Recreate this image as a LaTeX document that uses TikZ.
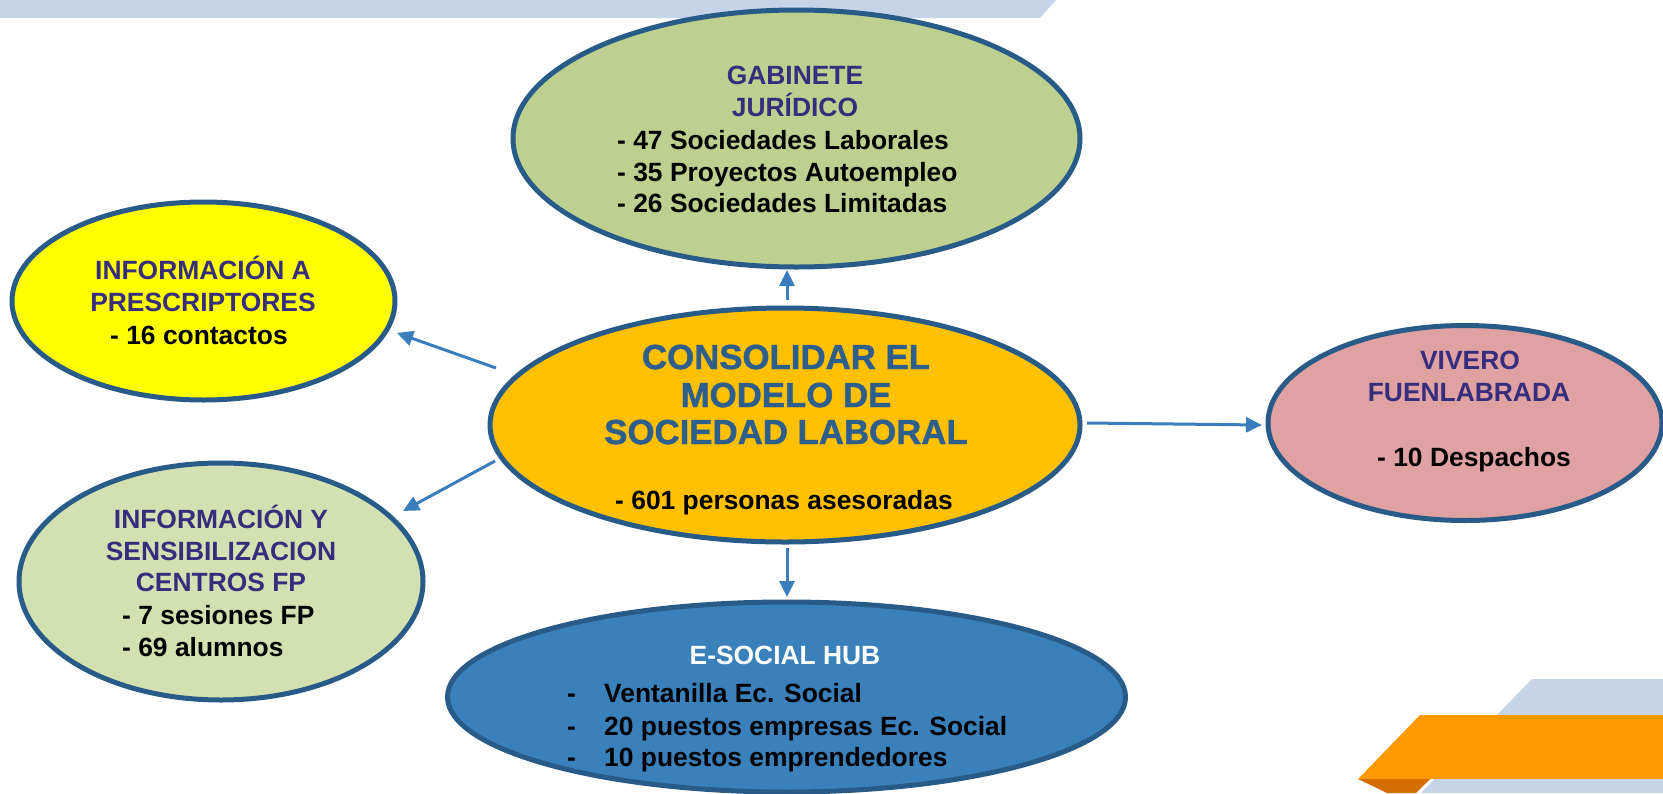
\documentclass[tikz,border=0pt]{standalone}
\usepackage{fontspec}
\setmainfont{Liberation Sans}
\newfontfamily\heavyfont{Liberation Sans Bold}[FakeBold=1.2]
\usetikzlibrary{shapes.geometric,arrows.meta,calc}
\definecolor{edgec}{RGB}{41,91,137}
\definecolor{arrowc}{RGB}{58,126,190}
\definecolor{hdr}{RGB}{55,45,125}
\definecolor{ttl}{RGB}{46,95,140}
\definecolor{gabf}{RGB}{189,208,143}
\definecolor{yelf}{RGB}{255,255,0}
\definecolor{cenf}{RGB}{255,192,0}
\definecolor{pinkf}{RGB}{223,161,161}
\definecolor{grnf}{RGB}{211,225,178}
\definecolor{bluf}{RGB}{58,128,186}
\definecolor{barc}{RGB}{198,212,231}
\definecolor{orgc}{RGB}{255,153,0}
\definecolor{dorg}{RGB}{212,110,0}
\begin{document}
\begin{tikzpicture}[x=1pt,y=-1pt,
  ell/.style={ellipse, draw=edgec, line width=5pt, inner sep=0pt, outer sep=0pt},
  txt/.style={inner sep=0pt, font=\bfseries\fontsize{26.4}{32}\selectfont},
  hd/.style={txt, text=hdr, anchor=base},
  bl/.style={txt, text=black, anchor=base west},
  ttlstyle/.style={inner sep=0pt, anchor=base, text=ttl, font=\heavyfont\fontsize{34.8}{38}\selectfont},
  arr/.style={draw=arrowc, line width=3pt, -{Triangle[length=16pt,width=15pt]}}]
\useasboundingbox (0,0) rectangle (1663,793);
% decorations
\fill[barc] (0,0) -- (1056,0) -- (1040,18) -- (0,18) -- cycle;
\fill[barc] (1532,679) -- (1663,679) -- (1663,793) -- (1421,793) -- cycle;
\fill[orgc] (1420,715) -- (1663,715) -- (1663,779) -- (1358,779) -- cycle;
\fill[dorg] (1358,779) -- (1430,779) -- (1416,793) -- (1387,793) -- cycle;
% ellipses
\node[ell, fill=gabf, minimum width=567pt, minimum height=257pt] (gab) at (796.5,138.5) {};
\node[ell, fill=yelf, minimum width=383pt, minimum height=198pt] (pres) at (203.5,301) {};
\node[ell, fill=cenf, minimum width=590pt, minimum height=234pt] (cen) at (785,425) {};
\node[ell, fill=pinkf, minimum width=394pt, minimum height=195pt] (viv) at (1465,423) {};
\node[ell, fill=grnf, minimum width=404pt, minimum height=237pt] (fp) at (221,581.5) {};
\node[ell, fill=bluf, minimum width=678pt, minimum height=190pt] (hub) at (786.5,697) {};
% GABINETE texts
\node[hd] (g1) at (795,84.5) {GABINETE};
\node[hd] (g2) at (795,116.5) {JURÍDICO};
\node[bl] (g3) at (617,149.5) {- 47 Sociedades Laborales};
\node[bl] (g4) at (617,181.5) {- 35 Proyectos Autoempleo};
\node[bl] (g5) at (617,212.5) {- 26 Sociedades Limitadas};
% prescriptores
\node[hd] (p1) at (203,279.5) {INFORMACIÓN A};
\node[hd] (p2) at (203,311.5) {PRESCRIPTORES};
\node[bl] (p3) at (110,344.5) {- 16 contactos};
% centros FP
\node[hd] (f1) at (221,528) {INFORMACIÓN Y};
\node[hd] (f2) at (221,560) {SENSIBILIZACION};
\node[hd] (f3) at (221,591.5) {CENTROS FP};
\node[bl] (f4) at (122,624) {- 7 sesiones FP};
\node[bl] (f5) at (122,656.5) {- 69 alumnos};
% central
\node[ttlstyle] (c1) at (786,369) {CONSOLIDAR EL};
\node[ttlstyle] (c2) at (786,407) {MODELO DE};
\node[ttlstyle] (c3) at (786,444) {SOCIEDAD LABORAL};
\node[txt, anchor=base] (c4) at (784,509.5) {- 601 personas asesoradas};
% vivero
\node[hd] (v1) at (1470,369) {VIVERO};
\node[hd] (v2) at (1469,401) {FUENLABRADA};
\node[bl] (v3) at (1377,466) {- 10 Despachos};
% hub
\node[txt, text=white, anchor=base] (h1) at (785,664.5) {E-SOCIAL HUB};
\node[bl] (hd1) at (567,702.5) {-};
\node[bl] (hd2) at (567,735.5) {-};
\node[bl] (hd3) at (567,766.5) {-};
\node[bl] (h2) at (604,702.5) {Ventanilla Ec. Social};
\node[bl] (h3) at (604,735.5) {20 puestos empresas Ec. Social};
\node[bl] (h4) at (604,766.5) {10 puestos emprendedores};
% connectors
\draw[arr] ($(cen.center)+(2,-125)$) -- ($(gab.center)+(-9.5,131.5)$);
\draw[arr] ($(cen.center)+(-289,-57)$) -- ($(pres.center)+(193.5,32)$);
\draw[arr] ($(cen.center)+(-290,36)$) -- ($(fp.center)+(182,-70.5)$);
\draw[arr] ($(cen.center)+(302,-2)$) -- ($(viv.center)+(-203,2)$);
\draw[arr] ($(cen.center)+(2,123)$) -- ($(hub.center)+(0.5,-100)$);
\end{tikzpicture}
\end{document}
